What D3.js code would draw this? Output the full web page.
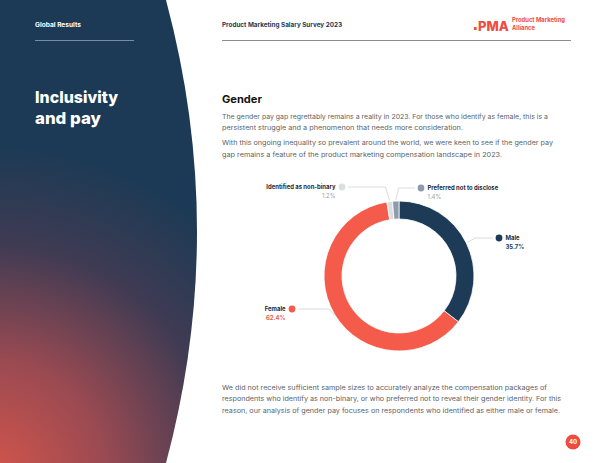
<!DOCTYPE html>
<html>
<head>
<meta charset="utf-8">
<script src="https://cdn.jsdelivr.net/npm/d3@7"></script>
<style>
  html, body { margin: 0; padding: 0; background: #fff; }
  svg { display: block; font-family: Inter, "Noto Sans", sans-serif; }
</style>
</head>
<body>
<svg id="chart"></svg>
<script>
// data
const categories = ['Male', 'Female', 'Identified as non-binary', 'Preferred not to disclose'];
const values = [35.7, 62.4, 1.2, 1.4];
const valueLabels = ['35.7%', '62.4%', '1.2%', '1.4%'];
const sliceColors = ['#1d3b57', '#f45b4a', '#dcdfe2', '#8d9cab'];
const pctColors = ['#1d3b57', '#f45b4a', '#9aa3ab', '#9aa3ab'];

const introLines = [
  'The gender pay gap regrettably remains a reality in 2023. For those who identify as female, this is a',
  'persistent struggle and a phenomenon that needs more consideration.'
];
const introLines2 = [
  'With this ongoing inequality so prevalent around the world, we were keen to see if the gender pay',
  'gap remains a feature of the product marketing compensation landscape in 2023.'
];
const footLines = [
  'We did not receive sufficient sample sizes to accurately analyze the compensation packages of',
  'respondents who identify as non-binary, or who preferred not to reveal their gender identity. For this',
  'reason, our analysis of gender pay focuses on respondents who identified as either male or female.'
];

const width = 600, height = 463;
const navy = '#1c3a55', red = '#ef4c3f', body = '#5b5f66';

const svg = d3.select('#chart').attr('width', width).attr('height', height);

// left panel with gradient
const defs = svg.append('defs');
const grad = defs.append('radialGradient')
  .attr('id', 'panelGrad')
  .attr('gradientUnits', 'userSpaceOnUse')
  .attr('cx', -10).attr('cy', 475).attr('r', 330);
grad.append('stop').attr('offset', 0).attr('stop-color', '#d4554b');
grad.append('stop').attr('offset', 0.35).attr('stop-color', '#9a4a52');
grad.append('stop').attr('offset', 0.7).attr('stop-color', '#3f3b53');
grad.append('stop').attr('offset', 1).attr('stop-color', navy);

svg.append('path')
  .attr('d', 'M0,0 L166,0 Q228,231.5 166,463 L0,463 Z')
  .attr('fill', 'url(#panelGrad)');

// header
svg.append('text').attr('x', 35).attr('y', 27)
  .attr('fill', '#fff').attr('font-size', 6.2).attr('font-weight', 700)
  .attr('textLength', 46).attr('lengthAdjust', 'spacingAndGlyphs')
  .text('Global Results');
svg.append('line').attr('x1', 35).attr('x2', 134).attr('y1', 40.5).attr('y2', 40.5)
  .attr('stroke', '#8fa2b6').attr('stroke-width', 0.8);

svg.append('text').attr('x', 222).attr('y', 27)
  .attr('fill', navy).attr('font-size', 6.2).attr('font-weight', 700)
  .attr('textLength', 120).attr('lengthAdjust', 'spacingAndGlyphs')
  .text('Product Marketing Salary Survey 2023');
svg.append('line').attr('x1', 222).attr('x2', 571).attr('y1', 40.5).attr('y2', 40.5)
  .attr('stroke', '#6b6e73').attr('stroke-width', 0.8);

// logo
const logo = svg.append('g').attr('fill', red);
logo.append('rect').attr('x', 474).attr('y', 27).attr('width', 2.6).attr('height', 3);
logo.append('text').attr('x', 478).attr('y', 31).attr('font-size', 13).attr('font-weight', 800)
  .text('PMA');
logo.append('text').attr('x', 512).attr('y', 21.5).attr('font-size', 5.8).attr('font-weight', 700)
  .attr('textLength', 53).attr('lengthAdjust', 'spacingAndGlyphs').text('Product Marketing');
logo.append('text').attr('x', 512).attr('y', 29.8).attr('font-size', 5.8).attr('font-weight', 700)
  .attr('textLength', 23).attr('lengthAdjust', 'spacingAndGlyphs').text('Alliance');

// title
svg.append('text').attr('x', 35).attr('y', 103)
  .attr('fill', '#fff').attr('font-size', 16.5).attr('font-weight', 800)
  .attr('textLength', 83).attr('lengthAdjust', 'spacingAndGlyphs')
  .text('Inclusivity');
svg.append('text').attr('x', 35).attr('y', 124)
  .attr('fill', '#fff').attr('font-size', 16.5).attr('font-weight', 800)
  .attr('textLength', 66).attr('lengthAdjust', 'spacingAndGlyphs')
  .text('and pay');

svg.append('text').attr('x', 222).attr('y', 102.5)
  .attr('fill', '#111').attr('font-size', 10.5).attr('font-weight', 700)
  .attr('textLength', 40).attr('lengthAdjust', 'spacingAndGlyphs')
  .text('Gender');

// paragraphs
const drawPara = (lines, y0, widths) => {
  svg.append('g').selectAll('text')
    .data(lines)
    .enter()
    .append('text')
    .attr('x', 222)
    .attr('y', (d, i) => y0 + i * 11.7)
    .attr('fill', body)
    .attr('font-size', 6.6)
    .attr('textLength', (d, i) => widths[i])
    .attr('lengthAdjust', 'spacingAndGlyphs')
    .text(d => d);
};
drawPara(introLines, 118.5, [326, 241]);
drawPara(introLines2, 145, [331, 280]);
drawPara(footLines, 389.5, [325, 339, 338]);

// donut
const cx = 399, cy = 276, outerR = 75, innerR = 57;
const g = svg.append('g').attr('transform', `translate(${cx},${cy})`);

const pie = d3.pie().sort(null).value(d => d.value);
const arcs = pie(categories.map((c, i) => ({ name: c, value: values[i], i })));
const arc = d3.arc().innerRadius(innerR).outerRadius(outerR);

g.selectAll('path')
  .data(arcs)
  .enter()
  .append('path')
  .attr('d', arc)
  .attr('fill', d => sliceColors[d.data.i])
  .attr('stroke', '#fff')
  .attr('stroke-width', 0.8);

// label layout (relative to donut centre): dot position, elbow shift, side
const labelLayout = [
  { dx: 100, dy: -38, elbow: 8, side: 1 },
  { dx: -107, dy: 33, elbow: -4, side: -1 },
  { dx: -57, dy: -89, elbow: -4, side: -1 },
  { dx: 22, dy: -88, elbow: 3, side: 1 }
];

const labels = g.append('g');
arcs.forEach(d => {
  const L = labelLayout[d.data.i];
  const mid = (d.startAngle + d.endAngle) / 2;
  const sx = Math.sin(mid) * (outerR + 1);
  const sy = -Math.cos(mid) * (outerR + 1);
  const ex = L.dx - L.side * 6;
  labels.append('path')
    .attr('d', `M${sx},${sy} L${sx + L.elbow},${L.dy} L${ex},${L.dy}`)
    .attr('fill', 'none')
    .attr('stroke', '#cfd3d7')
    .attr('stroke-width', 0.8);
  labels.append('circle')
    .attr('cx', L.dx).attr('cy', L.dy).attr('r', 3.4)
    .attr('fill', sliceColors[d.data.i]);
  const tx = L.dx + L.side * 6.5;
  const anchor = L.side > 0 ? 'start' : 'end';
  labels.append('text')
    .attr('x', tx).attr('y', L.dy + 2.2)
    .attr('text-anchor', anchor)
    .attr('font-size', 5.9).attr('font-weight', 700).attr('fill', '#1f2933')
    .text(d.data.name);
  labels.append('text')
    .attr('x', tx).attr('y', L.dy + 11)
    .attr('text-anchor', anchor)
    .attr('font-size', 5.9)
    .attr('font-weight', d.data.i < 2 ? 700 : 400)
    .attr('fill', pctColors[d.data.i])
    .text(valueLabels[d.data.i]);
});

// page number
svg.append('circle').attr('cx', 573).attr('cy', 442).attr('r', 7.5).attr('fill', red);
svg.append('text').attr('x', 573).attr('y', 444.2)
  .attr('text-anchor', 'middle').attr('fill', '#fff')
  .attr('font-size', 6).attr('font-weight', 700).text('40');
</script>
</body>
</html>
